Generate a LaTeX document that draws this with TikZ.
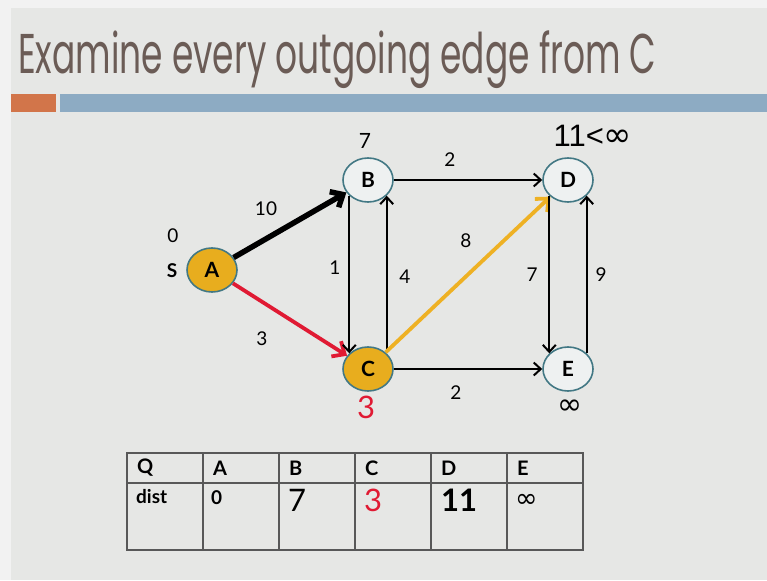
\documentclass[tikz,border=0pt]{standalone}
\usepackage{fontspec}
\setmainfont{Lato}
\newfontfamily\titlefont{Poppins}
\newfontfamily\symfont{DejaVu Sans}
\newfontfamily\arialfont{Liberation Sans}
\usetikzlibrary{arrows.meta,positioning,shapes.geometric}
\definecolor{outer}{HTML}{F2F2F2}
\definecolor{slidebg}{HTML}{E6E7E5}
\definecolor{titletext}{HTML}{6B5C56}
\definecolor{barorange}{HTML}{D2754A}
\definecolor{barblue}{HTML}{8DABC3}
\definecolor{gold}{HTML}{E8AD1E}
\definecolor{ring}{HTML}{427884}
\definecolor{nodewhite}{HTML}{EEF1F1}
\definecolor{hotred}{HTML}{E01A33}
\definecolor{amber}{HTML}{EEB124}
\definecolor{grid}{HTML}{585858}
\newcommand{\infsym}{{\symfont ∞}}
\tikzset{
  vertex/.style={
    ellipse, draw=ring, line width=1.6pt, fill=nodewhite,
    minimum width=50pt, minimum height=44pt, inner sep=0pt,
    font=\fontsize{21}{21}\selectfont\bfseries
  },
  visited/.style={vertex, fill=gold},
  edge/.style={-{Straight Barb[length=7pt,width=13pt]}, line width=2pt, black},
  heavyedge/.style={-{Straight Barb[length=10pt,width=18pt]}, line width=5.5pt},
  wlabel/.style={font=\fontsize{19}{19}\selectfont, inner sep=0pt},
  distlabel/.style={font=\fontsize{31}{31}\selectfont, inner sep=0pt},
  head/.style={anchor=west, font=\fontsize{20}{20}\selectfont\bfseries, inner sep=0pt},
  cell/.style={anchor=west, inner sep=0pt}
}
\begin{document}
\begin{tikzpicture}[x=1pt, y=-1pt]
  \useasboundingbox (0,0) rectangle (767,580);
  \fill[outer] (0,0) rectangle (767,580);
  \fill[slidebg] (11,8) rectangle (767,580);

  % title and header bars
  \node[anchor=base west, inner sep=0pt, text=titletext] (title) at (18,74)
    {\scalebox{0.615}[1]{\titlefont\fontsize{56}{56}\selectfont Examine every outgoing edge from C}};
  \fill[barorange] (11,94) rectangle (56,112);
  \fill[barblue] (60,94) rectangle (767,112);

  % graph
  \node[visited] (A) at (212,270) {A};
  \node[vertex]  (B) at (368,180) {B};
  \node[visited] (C) at (368,369) {C};
  \node[vertex]  (D) at (568,180) {D};
  \node[vertex]  (E) at (568,369) {E};

  \draw[heavyedge, black] (A) -- (B);
  \draw[heavyedge, hotred, line width=3.8pt] (A) -- (C);
  \draw[edge] (B) -- (D);
  \draw[edge] (B.220) -- (C.140);
  \draw[edge] (C.40) -- (B.320);
  \draw[heavyedge, amber, line width=3.8pt] (C) -- (D);
  \draw[edge] (C) -- (E);
  \draw[edge] (D.220) -- (E.140);
  \draw[edge] (E.40) -- (D.320);

  % weights
  \node[wlabel] (wab) at (266,209) {10};
  \node[wlabel] (wac) at (262,339) {3};
  \node[wlabel] (wbc) at (335,268) {1};
  \node[wlabel] (wcb) at (405,277) {4};
  \node[wlabel] (wbd) at (450,160) {2};
  \node[wlabel] (wcd) at (466,241) {8};
  \node[wlabel] (wde) at (532,275) {7};
  \node[wlabel] (wed) at (601,275) {9};
  \node[wlabel] (wce) at (456,393) {2};

  % distances
  \node[wlabel] (dA) at (173,236) {0};
  \node[wlabel, font=\fontsize{19}{19}\selectfont\bfseries] (src) at (172,271) {S};
  \node[wlabel, font=\fontsize{21}{21}\selectfont] (dB) at (365,141) {7};
  \node[distlabel, text=hotred] (dC) at (366,407) {3};
  \node[distlabel, font=\arialfont\fontsize{31}{31}\selectfont] (dD) at (593,136)
    {11<\fontsize{34}{34}\selectfont\infsym};
  \node[distlabel, font=\fontsize{30}{30}\selectfont] (dE) at (570,407) {\infsym};

  % distance table
  \draw[grid, line width=1.4pt] (127,453) rectangle (583,550);
  \draw[grid, line width=1.4pt] (127,483) -- (583,483);
  \foreach \i in {1,...,5}
    \draw[grid, line width=1.4pt] (127+76*\i,453) -- (127+76*\i,550);
  \foreach \h [count=\i from 0] in {Q,A,B,C,D,E}
    \node[head] (h\i) at (137+76*\i,468) {\h};
  \node[cell, font=\fontsize{19}{19}\selectfont\bfseries] (tdist) at (136,497) {dist};
  \node[cell, font=\fontsize{19}{19}\selectfont\bfseries] (tA) at (211,498) {0};
  \node[cell, font=\fontsize{31}{31}\selectfont] (tB) at (288,500) {7};
  \node[cell, font=\fontsize{31}{31}\selectfont, text=hotred] (tC) at (364,500) {3};
  \node[cell, font=\fontsize{31}{31}\selectfont\bfseries] (tD) at (441,500) {11};
  \node[cell, font=\fontsize{27}{27}\selectfont] (tE) at (515,501) {\infsym};
\end{tikzpicture}
\end{document}
